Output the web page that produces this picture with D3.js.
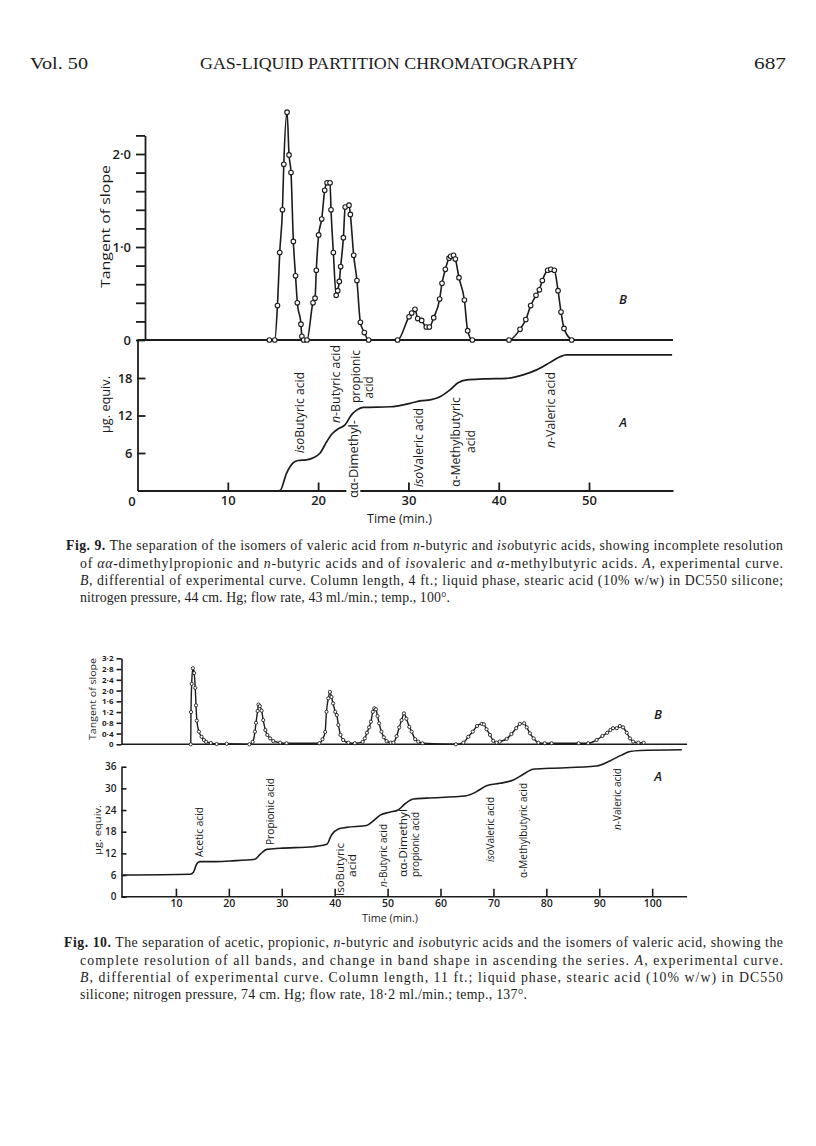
<!DOCTYPE html>
<html><head><meta charset="utf-8">
<script src="https://cdn.jsdelivr.net/npm/d3@7"></script>
<style>body{margin:0;background:#fff}svg{display:block}</style>
</head><body>
<svg id="page" width="816" height="1146"></svg>
<script>
// ---------------- DATA ----------------
// Fig. 9, curve B: [time (min), tangent of slope]
const fig9B = [[14.6,0],[15.2,0],[15.5,0.37],[15.75,0.94],[16.05,1.40],[16.2,1.89],[16.56,2.45],[16.78,1.99],[17.0,1.80],[17.26,1.06],[17.5,0.69],[17.7,0.40],[18.1,0.17],[18.2,0.04],[18.4,0],[18.77,0],
 [19.43,0.40],[19.66,0.45],[19.8,0.75],[20.06,1.13],[20.4,1.30],[20.73,1.61],[20.99,1.69],[21.32,1.69],[21.43,1.40],[21.69,0.94],[22.0,0.48],[22.17,0.53],[22.35,0.63],[22.5,0.79],[22.8,1.10],[23.0,1.43],[23.42,1.45],[23.57,1.35],[23.94,0.91],[24.3,0.64],[24.68,0.19],[25.12,0.08],[25.6,0],
 [28.8,0],[30.07,0.25],[30.36,0.29],[30.73,0.33],[31.03,0.23],[31.47,0.21],[31.98,0.14],[32.32,0.14],[32.8,0.24],[33.46,0.44],[33.72,0.61],[34.09,0.76],[34.5,0.88],[34.68,0.90],[35.0,0.91],[35.2,0.87],[35.6,0.67],[36.2,0.43],[36.56,0.10],[37.08,0],
 [41.14,0],[42.36,0.115],[43.0,0.22],[43.54,0.37],[44.13,0.48],[44.5,0.54],[44.83,0.64],[45.42,0.75],[45.76,0.76],[46.16,0.75],[46.57,0.53],[46.9,0.30],[47.23,0.125],[48.08,0]];
// Fig. 9, curve A: [time (min), µg. equiv.]
const fig9A = [[15.6,0],[15.78,0],[16.5,2.75],[17.26,4.45],[17.8,4.8],[18.7,4.9],[19.47,5.25],[20.2,5.95],[20.95,7.8],[21.5,9.0],[22.2,9.85],[22.98,10.5],[23.7,12.1],[24.3,12.9],[25.0,13.3],[27.96,13.4],[28.7,13.5],[30.2,13.95],[31.47,14.37],[32.4,14.5],[33.5,15.0],[34.6,16.1],[35.5,17.25],[36.45,17.7],[38.3,17.85],[40.9,17.95],[42.7,18.5],[44.2,19.3],[45.7,20.5],[46.8,21.4],[47.5,21.7],[59.2,21.7]];
const fig9SlopeTicks = [0,0.2,0.4,0.6,0.8,1.0,1.2,1.4,1.6,1.8,2.0,2.2];
const fig9SlopeTickLabels = ["0","","","","","1·0","","","","","2·0",""];
const fig9EquivTicks = [6,12,18];
const fig9TimeTicks = [10,20,30,40,50];
// Fig. 9 band labels: [retention time (min), text parts]
const fig9Labels = [
 [17.9, [["iso",1],["Butyric acid",0]]],
 [21.9, [["n",1],["-Butyric acid",0]]],
 [23.9, [["αα-Dimethyl-",0]]],
 [24.1, [["propionic",0]]],
 [25.5, [["acid",0]]],
 [31.1, [["iso",1],["Valeric acid",0]]],
 [35.2, [["α-Methylbutyric",0]]],
 [36.8, [["acid",0]]],
 [45.7, [["n",1],["-Valeric acid",0]]]
];

// Fig. 10, curve B
const fig10B = [[12.8,0],[12.85,1.2],[12.98,2.25],[13.2,2.83],[13.45,2.65],[13.65,2.1],[13.8,1.45],[13.95,0.88],[14.35,0.47],[14.85,0.28],[15.3,0.16],[15.7,0.09],[16.6,0.05],[17.7,0.01],[19.6,0.02],
 [23.87,0],[24.5,0.09],[24.94,0.47],[25.13,0.8],[25.44,1.24],[25.6,1.48],[25.85,1.42],[26.2,1.25],[26.5,0.9],[26.9,0.53],[27.27,0.35],[27.8,0.22],[28.4,0.12],[29.7,0.06],[30.9,0.04],
 [37.1,0.04],[37.7,0.19],[38.2,0.46],[38.45,1.21],[38.8,1.71],[39.1,1.95],[39.4,1.76],[39.7,1.52],[40.1,1.21],[40.4,1.09],[40.7,0.72],[41.1,0.35],[41.6,0.16],[42.6,0.06],[43.8,0.04],
 [45.3,0.09],[45.7,0.22],[46.1,0.43],[46.5,0.63],[46.85,0.84],[47.2,1.21],[47.5,1.34],[47.8,1.3],[48.1,1.05],[48.4,0.78],[48.85,0.47],[49.3,0.26],[49.8,0.12],[50.6,0.06],[51.1,0.06],
 [51.7,0.3],[52.2,0.63],[52.65,0.9],[53.1,1.15],[53.55,0.95],[54.1,0.65],[54.55,0.47],[55.2,0.19],[55.8,0.1],[56.6,0.04],
 [62.9,0],[64.3,0.06],[65.25,0.28],[66.1,0.47],[66.9,0.68],[67.8,0.76],[68.2,0.74],[68.7,0.56],[69.35,0.35],[69.97,0.13],[70.6,0.06],
 [71.2,0.1],[72.5,0.2],[73.4,0.38],[74.3,0.6],[75.0,0.76],[75.8,0.78],[76.3,0.63],[76.9,0.41],[77.6,0.22],[78.5,0.06],[79.7,0.04],[81.0,0.04],
 [86.1,0.04],[87.9,0.04],[89.5,0.16],[90.6,0.31],[91.5,0.43],[92.1,0.53],[92.6,0.6],[93.3,0.6],[93.9,0.68],[94.5,0.63],[95.2,0.43],[95.8,0.22],[96.4,0.1],[97.4,0.06],[98.4,0.06]];
// Fig. 10, curve A
const fig10A = [[0,6.0],[12.66,6.2],[13.3,6.75],[13.9,8.97],[14.55,9.7],[17.1,9.7],[20.2,9.9],[24.9,10.35],[25.9,11.7],[27.15,13.1],[29.7,13.4],[35.96,13.85],[38.5,14.5],[39.4,17.1],[40.7,18.75],[42.2,19.2],[46.0,19.7],[47.3,20.97],[48.6,22.6],[50.4,23.4],[52.0,24.0],[53.2,25.6],[54.85,27.05],[57.4,27.3],[64.9,27.97],[66.8,29.1],[68.7,30.7],[71.2,31.4],[73.75,32.3],[75.65,33.9],[77.5,35.3],[80.7,35.55],[89.5,36.2],[92.0,37.6],[94.2,39.2],[95.8,40.2],[97.7,40.5],[105.6,40.7]];
const fig10SlopeTicks = [0,0.4,0.8,1.2,1.6,2.0,2.4,2.8,3.2];
const fig10SlopeTickLabels = ["0","0·4","0·8","1·2","1·6","2·0","2·4","2·8","3·2"];
const fig10EquivTicks = [0,6,12,18,24,30,36];
const fig10TimeTicks = [10,20,30,40,50,60,70,80,90,100];
const fig10Labels = [
 [14.4, [["Acetic acid",0]]],
 [27.8, [["Propionic acid",0]]],
 [41.0, [["IsoButyric",0]]],
 [43.2, [["acid",0]]],
 [49.2, [["n",1],["-Butyric acid",0]]],
 [52.9, [["αα-Dimethyl",0]]],
 [55.2, [["propionic acid",0]]],
 [69.4, [["iso",1],["Valeric acid",0]]],
 [75.6, [["α-Methylbutyric acid",0]]],
 [93.3, [["n",1],["-Valeric acid",0]]]
];

// ---------------- DRAWING ----------------
const svg = d3.select("#page");
const ink = "#1c1c1c";
const sans = "'Open Sans', Lato, sans-serif";
const serif = "'Liberation Serif', 'DejaVu Serif', serif";

function styleAxis(g, fs, sw, fw) {
  g.selectAll("path.domain").attr("stroke", ink).attr("stroke-width", sw);
  g.selectAll(".tick line").attr("stroke", ink).attr("stroke-width", sw);
  g.selectAll(".tick text").attr("fill", ink).attr("font-family", sans).attr("font-size", fs).attr("font-weight", fw);
}
function richText(sel, parts) {
  parts.forEach(([s, it]) => sel.append("tspan").text(s).attr("font-style", it ? "italic" : null));
}
function vText(g, x, yb, len, parts, fs) {
  const t = g.append("text").attr("transform", `translate(${x},${yb}) rotate(-90)`)
    .attr("dominant-baseline", "central").attr("font-family", sans).attr("font-size", fs)
    .attr("fill", ink).attr("textLength", len).attr("lengthAdjust", "spacingAndGlyphs");
  richText(t, parts);
  return t;
}

// Header
svg.append("text").attr("x", 30).attr("y", 69).attr("font-family", serif).attr("font-size", 17).attr("fill", ink)
  .attr("textLength", 58).attr("lengthAdjust", "spacingAndGlyphs").text("Vol. 50");
svg.append("text").attr("x", 200).attr("y", 69).attr("font-family", serif).attr("font-size", 17).attr("fill", ink)
  .attr("textLength", 378).attr("lengthAdjust", "spacingAndGlyphs").text("GAS-LIQUID PARTITION CHROMATOGRAPHY");
svg.append("text").attr("x", 754).attr("y", 69).attr("font-family", serif).attr("font-size", 17).attr("fill", ink)
  .attr("textLength", 32).attr("lengthAdjust", "spacingAndGlyphs").text("687");

// ===== FIG 9 =====
const x9 = d3.scaleLinear().domain([0, 59.3]).range([137.5, 673]);
const yB9 = d3.scaleLinear().domain([0, 2.2]).range([340, 135.4]);
const yA9 = d3.scaleLinear().domain([0, 24]).range([490.5, 340.5]);
const g9 = svg.append("g");

const axB9 = g9.append("g").attr("transform", "translate(145,0)")
  .call(d3.axisLeft(yB9).tickValues(fig9SlopeTicks).tickFormat((d, i) => fig9SlopeTickLabels[i]).tickSizeInner(9).tickSizeOuter(0).tickPadding(5));
styleAxis(axB9, 13, 1.8, 600);

const axA9 = g9.append("g").attr("transform", `translate(${x9(0)},0)`)
  .call(d3.axisLeft(yA9).tickValues(fig9EquivTicks).tickSizeInner(-8).tickSizeOuter(0).tickPadding(5));
styleAxis(axA9, 13, 1.8, 600);

const axX9 = g9.append("g").attr("transform", `translate(0,${yA9(0)})`)
  .call(d3.axisBottom(x9).tickValues(fig9TimeTicks).tickSizeInner(-8).tickSizeOuter(0).tickPadding(5));
styleAxis(axX9, 13, 1.8, 600);

// baseline of B / top of A
g9.append("line").attr("x1", x9(0)).attr("x2", x9(59.3)).attr("y1", yB9(0)).attr("y2", yB9(0)).attr("stroke", ink).attr("stroke-width", 1.8);

g9.append("text").attr("x", 132).attr("y", 506).attr("text-anchor", "middle").attr("font-family", sans).attr("font-size", 13).attr("font-weight", 600).attr("fill", ink).text("0");

// curves
const lineB9 = d3.line().x(d => x9(d[0])).y(d => yB9(d[1])).curve(d3.curveMonotoneX);
g9.append("path").datum(fig9B).attr("d", lineB9).attr("fill", "none").attr("stroke", ink).attr("stroke-width", 1.6);
g9.selectAll("circle.b9").data(fig9B).join("circle").attr("class", "b9")
  .attr("cx", d => x9(d[0])).attr("cy", d => yB9(d[1])).attr("r", 2.3)
  .attr("fill", "#fff").attr("stroke", ink).attr("stroke-width", 1.1);

const lineA9 = d3.line().x(d => x9(d[0])).y(d => yA9(d[1])).curve(d3.curveMonotoneX);
g9.append("path").datum(fig9A).attr("d", lineA9).attr("fill", "none").attr("stroke", ink).attr("stroke-width", 1.7);

// axis titles
vText(g9, 105, 288, 123, [["Tangent of slope", 0]], 13);
vText(g9, 105, 433, 57, [["μg. equiv.", 0]], 13);
g9.append("text").attr("x", 367).attr("y", 523).attr("font-family", sans).attr("font-size", 13).attr("fill", ink)
  .attr("textLength", 65).attr("lengthAdjust", "spacingAndGlyphs").text("Time (min.)");
g9.append("text").attr("x", 623).attr("y", 304).attr("text-anchor", "middle").attr("font-family", sans).attr("font-size", 13).attr("font-style", "italic").attr("font-weight", 600).attr("fill", ink).text("B");
g9.append("text").attr("x", 623).attr("y", 427).attr("text-anchor", "middle").attr("font-family", sans).attr("font-size", 13).attr("font-style", "italic").attr("font-weight", 600).attr("fill", ink).text("A");

// band labels (layout: bottom y and length in px)
const fig9LabelLayout = [[453, 81], [423, 78], [498, 78], [403, 53], [398.5, 22], [487, 79], [487, 90], [453, 23], [448, 76]];
g9.append("rect").attr("x", x9(fig9Labels[2][0]) - 7).attr("y", 484).attr("width", 14).attr("height", 13).attr("fill", "#fff");
fig9Labels.forEach((l, i) => vText(g9, x9(l[0]), fig9LabelLayout[i][0], fig9LabelLayout[i][1], l[1], 12.5));

// ===== FIG 10 =====
const x10 = d3.scaleLinear().domain([0, 106.6]).range([123, 687.1]);
const yB10 = d3.scaleLinear().domain([0, 3.2]).range([744.3, 658.3]);
const yA10 = d3.scaleLinear().domain([0, 36]).range([896.7, 766.7]);
const g10 = svg.append("g");
const axisX10 = 121.5;

const axB10 = g10.append("g").attr("transform", `translate(${axisX10},0)`)
  .call(d3.axisLeft(yB10).tickValues(fig10SlopeTicks).tickFormat((d, i) => fig10SlopeTickLabels[i]).tickSizeInner(5).tickSizeOuter(0).tickPadding(3));
styleAxis(axB10, 7.8, 1.6, 700);
axB10.selectAll(".tick text").attr("textLength", d => d === 0 ? null : 11.5).attr("lengthAdjust", "spacingAndGlyphs");

const axA10 = g10.append("g").attr("transform", `translate(${axisX10},0)`)
  .call(d3.axisLeft(yA10).tickValues(fig10EquivTicks).tickSizeInner(-5).tickSizeOuter(0).tickPadding(5));
styleAxis(axA10, 10, 1.6, 600);
axA10.selectAll(".tick text").attr("textLength", d => d < 10 ? null : 11.5).attr("lengthAdjust", "spacingAndGlyphs");

const axX10 = g10.append("g").attr("transform", `translate(0,${yA10(0)})`)
  .call(d3.axisBottom(x10).tickValues(fig10TimeTicks).tickSizeInner(-8).tickSizeOuter(0).tickPadding(3));
styleAxis(axX10, 10.5, 1.6, 600);
axX10.select("path.domain").attr("d", `M${axisX10},0H${x10(106.6)}`);

g10.append("line").attr("x1", axisX10).attr("x2", x10(106.6)).attr("y1", yB10(0)).attr("y2", yB10(0)).attr("stroke", ink).attr("stroke-width", 1.6);

const lineB10 = d3.line().x(d => x10(d[0])).y(d => yB10(d[1])).curve(d3.curveMonotoneX);
g10.append("path").datum(fig10B).attr("d", lineB10).attr("fill", "none").attr("stroke", ink).attr("stroke-width", 1.4);
g10.selectAll("circle.b10").data(fig10B).join("circle").attr("class", "b10")
  .attr("cx", d => x10(d[0])).attr("cy", d => yB10(d[1])).attr("r", 1.6)
  .attr("fill", "#fff").attr("stroke", ink).attr("stroke-width", 0.9);

const lineA10 = d3.line().x(d => x10(d[0])).y(d => yA10(d[1])).curve(d3.curveMonotoneX);
g10.append("path").datum(fig10A).attr("d", lineA10).attr("fill", "none").attr("stroke", ink).attr("stroke-width", 1.6);

vText(g10, 92, 740, 82, [["Tangent of slope", 0]], 9.5);
vText(g10, 97, 855, 50, [["μg. equiv.", 0]], 9.5);
g10.append("text").attr("x", 362).attr("y", 922).attr("font-family", sans).attr("font-size", 10.5).attr("fill", ink)
  .attr("textLength", 56).attr("lengthAdjust", "spacingAndGlyphs").text("Time (min.)");
g10.append("text").attr("x", 658).attr("y", 719).attr("text-anchor", "middle").attr("font-family", sans).attr("font-size", 13).attr("font-style", "italic").attr("font-weight", 600).attr("fill", ink).text("B");
g10.append("text").attr("x", 658).attr("y", 781).attr("text-anchor", "middle").attr("font-family", sans).attr("font-size", 13).attr("font-style", "italic").attr("font-weight", 600).attr("fill", ink).text("A");

const fig10LabelLayout = [[857, 50], [845, 67], [896, 53], [877, 23], [887, 63], [877, 68], [877, 65], [862, 65], [878, 95], [830, 62]];
fig10Labels.forEach((l, i) => vText(g10, x10(l[0]), fig10LabelLayout[i][0], fig10LabelLayout[i][1], l[1], 10));

// ---------------- CAPTIONS ----------------
function capLine(x, y, len, parts) {
  const t = svg.append("text").attr("x", x).attr("y", y).attr("font-family", serif).attr("font-size", 13.8).attr("fill", ink);
  if (len) t.attr("textLength", len).attr("lengthAdjust", "spacing");
  parts.forEach(([s, st]) => t.append("tspan").text(s)
    .attr("font-style", st === "i" ? "italic" : null).attr("font-weight", st === "b" ? "bold" : null));
}
capLine(66, 550, 717, [["Fig. 9.", "b"], [" The separation of the isomers of valeric acid from ", ""], ["n", "i"], ["-butyric and ", ""], ["iso", "i"], ["butyric acids, showing incomplete resolution", ""]]);
capLine(80, 568, 703, [["of ", ""], ["αα", "i"], ["-dimethylpropionic and ", ""], ["n", "i"], ["-butyric acids and of ", ""], ["iso", "i"], ["valeric and ", ""], ["α", "i"], ["-methylbutyric acids.  ", ""], ["A", "i"], [", experimental curve.", ""]]);
capLine(80, 585, 703, [["B", "i"], [", differential of experimental curve.  Column length, 4 ft.; liquid phase, stearic acid (10% w/w) in DC550 silicone;", ""]]);
capLine(80, 602, 370, [["nitrogen pressure, 44 cm. Hg; flow rate, 43 ml./min.; temp., 100°.", ""]]);

capLine(64, 947, 719, [["Fig. 10.", "b"], [" The separation of acetic, propionic, ", ""], ["n", "i"], ["-butyric and ", ""], ["iso", "i"], ["butyric acids and the isomers of valeric acid, showing the", ""]]);
capLine(80, 965, 703, [["complete resolution of all bands, and change in band shape in ascending the series.  ", ""], ["A", "i"], [", experimental curve.", ""]]);
capLine(80, 982, 703, [["B", "i"], [", differential of experimental curve.  Column length, 11 ft.; liquid phase, stearic acid (10% w/w) in DC550", ""]]);
capLine(80, 999, 447, [["silicone; nitrogen pressure, 74 cm. Hg; flow rate, 18·2 ml./min.; temp., 137°.", ""]]);
</script>
</body></html>
